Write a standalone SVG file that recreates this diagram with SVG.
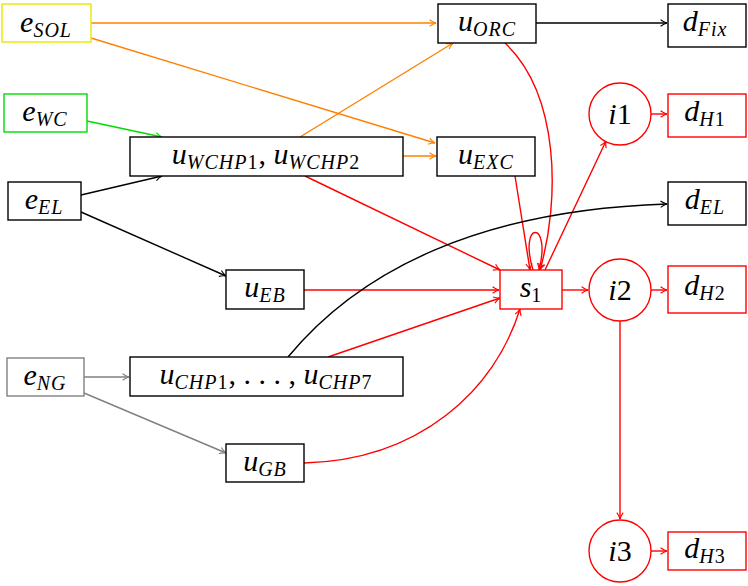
<svg xmlns="http://www.w3.org/2000/svg" width="748" height="586" viewBox="0 0 748 586">
<style>
.n{fill:#fff;stroke:#000;stroke-width:1.4}
.r{stroke:#f00}
text{font-family:"Liberation Serif","DejaVu Serif",serif;font-style:italic;font-size:30px;text-anchor:middle}
.s{font-size:20px;letter-spacing:1px}
.up{font-style:normal}
path{fill:none;stroke-width:1.4}
</style>
<defs>
<marker id="ak" viewBox="0 0 10 10" refX="9" refY="5" markerWidth="8" markerHeight="8" orient="auto" markerUnits="userSpaceOnUse"><path d="M1,1 Q5,4 9,5 Q5,6 1,9" stroke="#000" stroke-width="1.3"/></marker>
<marker id="ao" viewBox="0 0 10 10" refX="9" refY="5" markerWidth="8" markerHeight="8" orient="auto" markerUnits="userSpaceOnUse"><path d="M1,1 Q5,4 9,5 Q5,6 1,9" stroke="#ff8000" stroke-width="1.3"/></marker>
<marker id="ag" viewBox="0 0 10 10" refX="9" refY="5" markerWidth="8" markerHeight="8" orient="auto" markerUnits="userSpaceOnUse"><path d="M1,1 Q5,4 9,5 Q5,6 1,9" stroke="#00dd00" stroke-width="1.3"/></marker>
<marker id="ay" viewBox="0 0 10 10" refX="9" refY="5" markerWidth="8" markerHeight="8" orient="auto" markerUnits="userSpaceOnUse"><path d="M1,1 Q5,4 9,5 Q5,6 1,9" stroke="#808080" stroke-width="1.3"/></marker>
<marker id="ar" viewBox="0 0 10 10" refX="9" refY="5" markerWidth="8" markerHeight="8" orient="auto" markerUnits="userSpaceOnUse"><path d="M1,1 Q5,4 9,5 Q5,6 1,9" stroke="#f00" stroke-width="1.3"/></marker>
</defs>
<g id="connectors">
<path d="M91,23 H436" stroke="#ff8000" marker-end="url(#ao)"/>
<path d="M91,38 L435,143" stroke="#ff8000" marker-end="url(#ao)"/>
<path d="M87,121 L162,137" stroke="#00dd00" marker-end="url(#ag)"/>
<path d="M81,195 L162,176" stroke="#000" marker-end="url(#ak)"/>
<path d="M81,212 L226,276" stroke="#000" marker-end="url(#ak)"/>
<path d="M84,377 H129" stroke="#808080" marker-end="url(#ay)"/>
<path d="M84,393 L226,453" stroke="#808080" marker-end="url(#ay)"/>
<path d="M300,137 L453,43" stroke="#ff8000" marker-end="url(#ao)"/>
<path d="M403,156 H436" stroke="#ff8000" marker-end="url(#ao)"/>
<path d="M305,176 L500,270" stroke="#f00" marker-end="url(#ar)"/>
<path d="M536,23 H667" stroke="#000" marker-end="url(#ak)"/>
<path d="M505,43 C560,95 560,200 540,270" stroke="#f00" marker-end="url(#ar)"/>
<path d="M515,176 L530,270" stroke="#f00" marker-end="url(#ar)"/>
<path d="M304,290 H499" stroke="#f00" marker-end="url(#ar)"/>
<path d="M328,357 L500,298" stroke="#f00" marker-end="url(#ar)"/>
<path d="M304,463 C420,460 495,390 520,309" stroke="#f00" marker-end="url(#ar)"/>
<path d="M533,270 C518,220 552,220 539,270" stroke="#f00" marker-end="url(#ar)"/>
<path d="M545,270 L606,141" stroke="#f00" marker-end="url(#ar)"/>
<path d="M562,290 H588" stroke="#f00" marker-end="url(#ar)"/>
<path d="M288,357 C360,270 480,210 667,204" stroke="#000" marker-end="url(#ak)"/>
<path d="M651,114 H667" stroke="#f00" marker-end="url(#ar)"/>
<path d="M651,290 H667" stroke="#f00" marker-end="url(#ar)"/>
<path d="M620,321 V519" stroke="#f00" marker-end="url(#ar)"/>
<path d="M651,551 H667" stroke="#f00" marker-end="url(#ar)"/>
</g>
<g id="eSOL"><rect class="n" x="2" y="4" width="89" height="38" style="stroke:#e8e800"/><text x="46" y="32">e<tspan class="s" dy="5">SOL</tspan></text></g>
<g id="eWC"><rect class="n" x="4" y="94" width="83" height="38" style="stroke:#00dd00"/><text x="45" y="121">e<tspan class="s" dy="5">WC</tspan></text></g>
<g id="eEL"><rect class="n" x="8" y="182" width="73" height="38"/><text x="44" y="209">e<tspan class="s" dy="5">EL</tspan></text></g>
<g id="eNG"><rect class="n" x="7" y="358" width="77" height="38" style="stroke:#808080"/><text x="45" y="385">e<tspan class="s" dy="5">NG</tspan></text></g>
<g id="uWCHP"><rect class="n" x="130" y="137" width="273" height="39"/><text x="266" y="164">u<tspan class="s" dy="5">WCHP</tspan><tspan class="s up">1</tspan><tspan class="up" dy="-5">, </tspan>u<tspan class="s" dy="5">WCHP</tspan><tspan class="s up">2</tspan></text></g>
<g id="uEB"><rect class="n" x="226" y="270" width="78" height="39"/><text x="265" y="297">u<tspan class="s" dy="5">EB</tspan></text></g>
<g id="uCHP"><rect class="n" x="130" y="357" width="273" height="39"/><text x="266" y="384">u<tspan class="s" dy="5">CHP</tspan><tspan class="s up">1</tspan><tspan class="up" dy="-5">, . . . , </tspan>u<tspan class="s" dy="5">CHP</tspan><tspan class="s up">7</tspan></text></g>
<g id="uGB"><rect class="n" x="226" y="444" width="78" height="38"/><text x="265" y="471">u<tspan class="s" dy="5">GB</tspan></text></g>
<g id="uORC"><rect class="n" x="438" y="4" width="98" height="39"/><text x="487" y="31">u<tspan class="s" dy="5">ORC</tspan></text></g>
<g id="uEXC"><rect class="n" x="437" y="137" width="98" height="39"/><text x="486" y="164">u<tspan class="s" dy="5">EXC</tspan></text></g>
<g id="s1"><rect class="n r" x="500" y="270" width="62" height="39"/><text x="531" y="297">s<tspan class="s up" dy="5">1</tspan></text></g>
<g id="i1"><circle class="n r" cx="620" cy="114" r="31"/><text x="620" y="124">i<tspan class="up">1</tspan></text></g>
<g id="i2"><circle class="n r" cx="620" cy="290" r="31"/><text x="620" y="300">i<tspan class="up">2</tspan></text></g>
<g id="i3"><circle class="n r" cx="620" cy="551" r="31"/><text x="620" y="561">i<tspan class="up">3</tspan></text></g>
<g id="dFix"><rect class="n" x="668" y="4" width="78" height="43"/><text x="705" y="31">d<tspan class="s" dy="5">Fix</tspan></text></g>
<g id="dH1"><rect class="n r" x="668" y="94" width="78" height="43"/><text x="705" y="121">d<tspan class="s" dy="5">H</tspan><tspan class="s up">1</tspan></text></g>
<g id="dEL"><rect class="n" x="668" y="182" width="78" height="43"/><text x="705" y="209">d<tspan class="s" dy="5">EL</tspan></text></g>
<g id="dH2"><rect class="n r" x="668" y="266" width="78" height="47"/><text x="705" y="295">d<tspan class="s" dy="5">H</tspan><tspan class="s up">2</tspan></text></g>
<g id="dH3"><rect class="n r" x="668" y="532" width="78" height="38"/><text x="705" y="558">d<tspan class="s" dy="5">H</tspan><tspan class="s up">3</tspan></text></g>
</svg>
